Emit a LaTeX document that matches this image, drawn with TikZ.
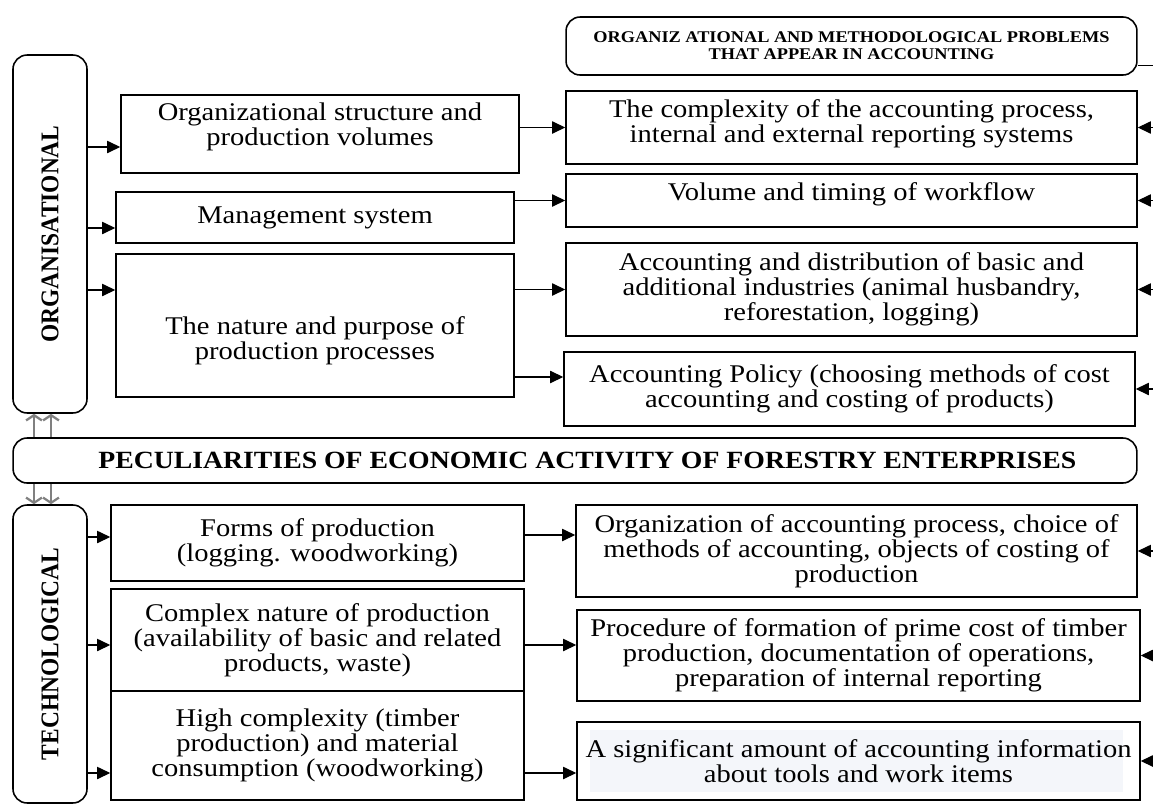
\documentclass[tikz,border=0pt]{standalone}
\usepackage{fontspec}
\usepackage{graphicx}
\setmainfont{Liberation Serif}[FakeStretch=1.12]
\newfontfamily\rotfont{Liberation Serif}[FakeStretch=0.92]
\usetikzlibrary{arrows.meta,calc}
\definecolor{bgtext}{RGB}{244,246,250}

\tikzset{
    box/.style={draw,line width=0.9pt,align=center,inner sep=2pt,font=\fontsize{14.5}{14.2}\selectfont},
    rbox/.style={box,rounded corners=8pt},
    arr/.style={line width=0.7pt,-{Triangle[length=7.5pt,width=7pt]}},
    dbl/.style={draw=gray,line width=1.3pt,-{Straight Barb[length=3pt,width=9pt]}}
}

\begin{document}
\begin{tikzpicture}[x=0.02cm,y=-0.02cm]
        \useasboundingbox (0,0) rectangle (1153,805);
        \coordinate (edge) at (1153,0);
        % heading and main band
        \node[rbox,minimum width=11.42cm,minimum height=1.16cm,font=\bfseries\fontsize{9.3}{9.7}\selectfont] (hdr) at (851.5,46) {ORGANIZ ATIONAL AND METHODOLOGICAL PROBLEMS\\THAT APPEAR IN ACCOUNTING};
        \node[rbox,minimum width=22.48cm,minimum height=0.9cm,font=\bfseries\fontsize{14.1}{14}\selectfont] (band) at (575,460.5) {\hspace*{14pt}PECULIARITIES OF ECONOMIC ACTIVITY OF FORESTRY ENTERPRISES};
        \node[rbox,minimum width=1.48cm,minimum height=7.16cm] (org) at (50,234) {\rotatebox{90}{\rotfont\bfseries ORGANISATIONAL}};
        \node[rbox,minimum width=1.48cm,minimum height=5.96cm] (tech) at (50,654) {\rotatebox{90}{\rotfont\bfseries TECHNOLOGICAL}};
        \draw[dbl] (band.north -| 34,0) -- (org.south -| 34,0);
        \draw[dbl] (band.north -| 51,0) -- (org.south -| 51,0);
        \draw[dbl] (band.south -| 34,0) -- (tech.north -| 34,0);
        \draw[dbl] (band.south -| 51,0) -- (tech.north -| 51,0);
        % organisational factors
        \node[box,minimum width=7.96cm,minimum height=1.56cm] (b1) at (320,134) {Organizational structure and\\production volumes\rule[-11pt]{0pt}{0pt}};
        \node[box,minimum width=7.96cm,minimum height=1.02cm] (b2) at (315,217.5) {Management system};
        \node[box,minimum width=7.96cm,minimum height=2.86cm] (b3) at (315,325.5) {\rule{0pt}{28pt}The nature and purpose of\\production processes};
        \node[box,minimum width=11.42cm,minimum height=1.46cm] (r1) at (851.5,127.5) {The complexity of the accounting process,\\internal and external reporting systems\rule[-7pt]{0pt}{0pt}};
        \node[box,minimum width=11.42cm,minimum height=1.06cm] (r2) at (851.5,200.5) {Volume and timing of workflow\rule[-10pt]{0pt}{0pt}};
        \node[box,minimum width=11.42cm,minimum height=1.86cm] (r3) at (851.5,289.5) {Accounting and distribution of basic and\\additional industries (animal husbandry,\\reforestation, logging)};
        \node[box,minimum width=11.42cm,minimum height=1.48cm] (r4) at (849.5,389) {Accounting Policy (choosing methods of cost\\accounting and costing of products)};
        \draw[arr] (org.east |- 0,147) -- (b1.west |- 0,147);
        \draw[arr] (org.east |- 0,228) -- (b2.west |- 0,228);
        \draw[arr] (org.east |- 0,290) -- (b3.west |- 0,290);
        \draw[arr] (b1.east |- r1.west) -- (r1.west);
        \draw[arr] (b2.east |- r2.west) -- (r2.west);
        \draw[arr] (b3.east |- r3.west) -- (r3.west);
        \draw[arr] (b3.east |- 0,377) -- (r4.west |- 0,377);
        % technological factors
        \node[box,minimum width=8.26cm,minimum height=1.52cm] (t1) at (317.5,543) {Forms of production\\(logging. woodworking)};
        \node[box,minimum width=8.26cm,minimum height=2.04cm] (t2) at (317.5,640) {Complex nature of production\\(availability of basic and related\\products, waste)};
        \node[box,minimum width=8.26cm,minimum height=2.18cm] (t3) at (317.5,745.5) {High complexity (timber\\production) and material\\consumption (woodworking)};
        \node[box,minimum width=11.22cm,minimum height=1.84cm] (s1) at (856.5,551) {Organization of accounting process, choice of\\methods of accounting, objects of costing of\\production};
        \node[box,minimum width=11.26cm,minimum height=1.82cm] (s2) at (858.5,655.5) {Procedure of formation of prime cost of timber\\production, documentation of operations,\\preparation of internal reporting};
        \node[box,minimum width=11.26cm,minimum height=1.56cm,path picture={\fill[bgtext] ($(path picture bounding box.south west)+(13,-8)$) rectangle ($(path picture bounding box.north east)+(-17,8)$);}] (s3) at (858.5,761) {A significant amount of accounting information\\about tools and work items};
        \draw[arr] (tech.east |- 0,537) -- (t1.west |- 0,537);
        \draw[arr] (tech.east |- 0,645) -- (t2.west |- 0,645);
        \draw[arr] (tech.east |- 0,773) -- (t3.west |- 0,773);
        \draw[arr] (t1.east |- 0,535) -- (s1.west |- 0,535);
        \draw[arr] (t2.east |- 0,645) -- (s2.west |- 0,645);
        \draw[arr] (t3.east |- 0,773) -- (s3.west |- 0,773);
        % right-hand bus
        \draw[line width=0.7pt] ([yshift=0.2cm]hdr.south east) -- ([yshift=0.2cm]hdr.south east -| edge);
        \foreach \n in {r1,r2,r3,r4,s1,s2,s3}
            \draw[arr] (\n.east -| edge) -- (\n.east);
    \end{tikzpicture}
\end{document}
